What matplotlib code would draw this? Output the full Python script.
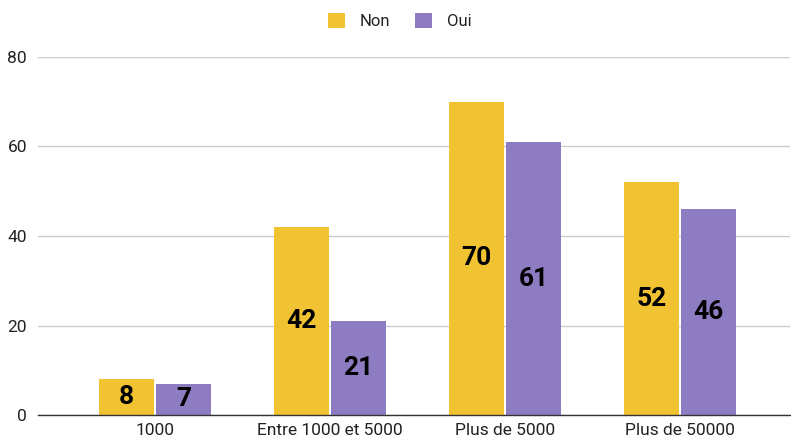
import matplotlib
matplotlib.use("Agg")
import matplotlib.pyplot as plt
import numpy as np

categories = ["1000", "Entre 1000 et 5000", "Plus de 5000", "Plus de 50000"]
non_values = [8, 42, 70, 52]
oui_values = [7, 21, 61, 46]
series_names = ["Non", "Oui"]
colors = ["#F1C232", "#8E7CC3"]

plt.rcParams['font.family'] = ['Roboto', 'DejaVu Sans']

fig = plt.figure(figsize=(7.91, 4.40), dpi=100)
W, H = 791, 440
x0, x1 = 38, 790
y0, y1 = 415, 57
ax = fig.add_axes([x0 / W, 1 - y0 / H, (x1 - x0) / W, (y0 - y1) / H])

x = np.arange(len(categories))
bw = 0.314
gap = 0.006
b1 = ax.bar(x - bw / 2 - gap, non_values, bw, color=colors[0], label=series_names[0], zorder=3)
b2 = ax.bar(x + bw / 2 + gap, oui_values, bw, color=colors[1], label=series_names[1], zorder=3)

for bars, vals in ((b1, non_values), (b2, oui_values)):
    for r, v in zip(bars, vals):
        ax.text(r.get_x() + r.get_width() / 2, v / 2, str(v), ha='center', va='center',
                fontsize=19, fontweight='bold', color='#000000', zorder=4)

sp = 175.0
ax.set_xlim(-(155 - x0) / sp, 3 + (x1 - 680) / sp)
ax.set_ylim(0, 80)
ax.set_yticks([0, 20, 40, 60, 80])
ax.set_xticks(x)
ax.set_xticklabels(categories)
ax.tick_params(axis='both', length=0, labelsize=12.5, colors='#222222')
ax.tick_params(axis='y', pad=8)
ax.tick_params(axis='x', pad=6)
ax.grid(axis='y', color='#CCCCCC', linewidth=1, zorder=0)
ax.set_axisbelow(True)
for s in ['top', 'right', 'left']:
    ax.spines[s].set_visible(False)
ax.spines['bottom'].set_color('#333333')
ax.spines['bottom'].set_linewidth(1)
ax.spines['bottom'].set_zorder(5)

fig.legend(handles=[b1, b2], labels=series_names, loc='center', bbox_to_anchor=(400 / W, 1 - 21 / H),
           ncol=2, frameon=False, fontsize=12, handlelength=1.0, handleheight=1.0,
           columnspacing=1.5, handletextpad=0.9, labelcolor='#222222')

fig.savefig("out.png", dpi=100)
